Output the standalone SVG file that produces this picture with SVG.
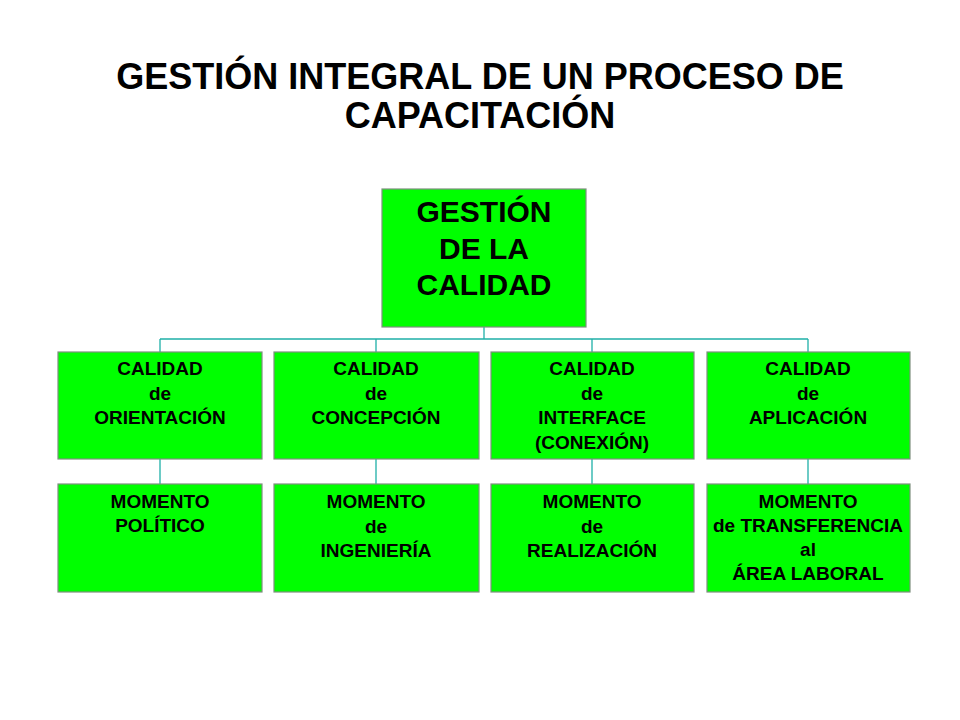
<svg xmlns="http://www.w3.org/2000/svg" width="960" height="720" viewBox="0 0 960 720">
<style>
  .box { fill: #00FF00; stroke: #7f8f7f; stroke-width: 1.2; }
  .title { font-family: "Liberation Sans", Arial, sans-serif; font-weight: bold; font-size: 36px; fill: #000; text-anchor: middle; }
  .big { font-family: "Liberation Sans", Arial, sans-serif; font-weight: bold; font-size: 30px; fill: #000; text-anchor: middle; }
  .lbl { font-family: "Liberation Sans", Arial, sans-serif; font-weight: bold; font-size: 19px; fill: #000; text-anchor: middle; }
  .conn { stroke: #1FB0A8; stroke-width: 1.3; fill: none; }
</style>
<rect width="960" height="720" fill="#fff"/>
<g id="title">
  <text class="title" x="480" y="89">GESTIÓN INTEGRAL DE UN PROCESO DE</text>
  <text class="title" x="480" y="128">CAPACITACIÓN</text>
</g>
<g id="connectors">
  <path class="conn" d="M484,327 V339 M160,339 H808 M160,339 V352 M376,339 V352 M592,339 V352 M808,339 V352"/>
  <path class="conn" d="M160,459 V484 M376,459 V484 M592,459 V484 M808,459 V484"/>
</g>
<g id="gestion-calidad">
  <rect class="box" x="382" y="189" width="204" height="138"/>
  <text class="big" x="484" y="222">GESTIÓN</text>
  <text class="big" x="484" y="259">DE LA</text>
  <text class="big" x="484" y="295">CALIDAD</text>
</g>
<g id="calidad-orientacion">
  <rect class="box" x="58" y="352" width="204" height="107"/>
  <text class="lbl" x="160" y="375">CALIDAD</text>
  <text class="lbl" x="160" y="400">de</text>
  <text class="lbl" x="160" y="424">ORIENTACIÓN</text>
</g>
<g id="calidad-concepcion">
  <rect class="box" x="274" y="352" width="205" height="107"/>
  <text class="lbl" x="376" y="375">CALIDAD</text>
  <text class="lbl" x="376" y="400">de</text>
  <text class="lbl" x="376" y="424">CONCEPCIÓN</text>
</g>
<g id="calidad-interface">
  <rect class="box" x="491" y="352" width="203" height="107"/>
  <text class="lbl" x="592" y="375">CALIDAD</text>
  <text class="lbl" x="592" y="400">de</text>
  <text class="lbl" x="592" y="424">INTERFACE</text>
  <text class="lbl" x="592" y="449">(CONEXIÓN)</text>
</g>
<g id="calidad-aplicacion">
  <rect class="box" x="707" y="352" width="203" height="107"/>
  <text class="lbl" x="808" y="375">CALIDAD</text>
  <text class="lbl" x="808" y="400">de</text>
  <text class="lbl" x="808" y="424">APLICACIÓN</text>
</g>
<g id="momento-politico">
  <rect class="box" x="58" y="484" width="204" height="108"/>
  <text class="lbl" x="160" y="508">MOMENTO</text>
  <text class="lbl" x="160" y="532">POLÍTICO</text>
</g>
<g id="momento-ingenieria">
  <rect class="box" x="274" y="484" width="205" height="108"/>
  <text class="lbl" x="376" y="508">MOMENTO</text>
  <text class="lbl" x="376" y="533">de</text>
  <text class="lbl" x="376" y="557">INGENIERÍA</text>
</g>
<g id="momento-realizacion">
  <rect class="box" x="491" y="484" width="203" height="108"/>
  <text class="lbl" x="592" y="508">MOMENTO</text>
  <text class="lbl" x="592" y="533">de</text>
  <text class="lbl" x="592" y="557">REALIZACIÓN</text>
</g>
<g id="momento-transferencia">
  <rect class="box" x="707" y="484" width="203" height="108"/>
  <text class="lbl" x="808" y="508">MOMENTO</text>
  <text class="lbl" x="808" y="532">de TRANSFERENCIA</text>
  <text class="lbl" x="808" y="556">al</text>
  <text class="lbl" x="808" y="580">ÁREA LABORAL</text>
</g>
</svg>
